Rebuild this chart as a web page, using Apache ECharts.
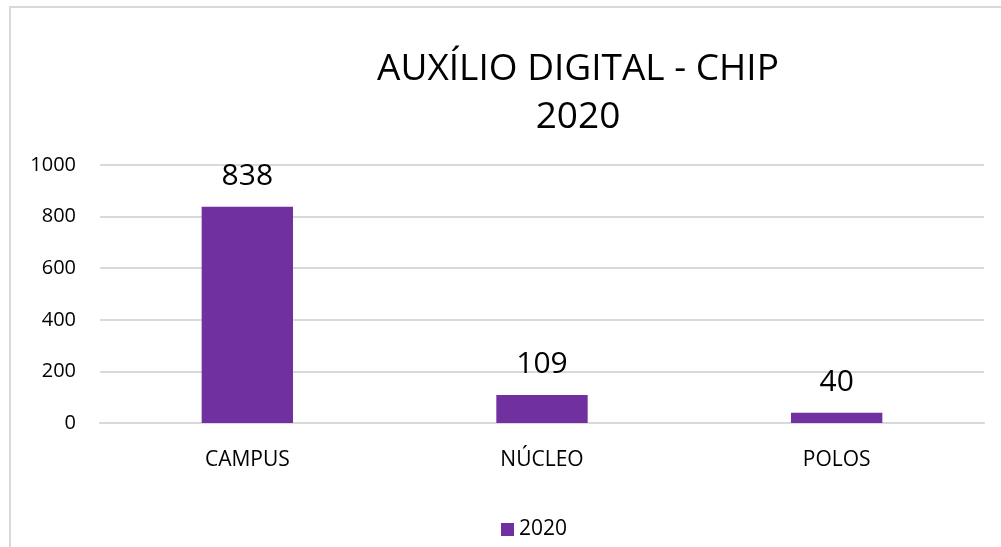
<!DOCTYPE html>
<html>
<head>
<meta charset="utf-8">
<script src="https://cdn.jsdelivr.net/npm/echarts@6/dist/echarts.min.js"></script>
<style>
  html, body { margin: 0; padding: 0; background: #fff; }
  #chart { width: 1001px; height: 547px; }
</style>
</head>
<body>
<div id="chart"></div>
<script>
  // dados
  var categories = ['CAMPUS', 'NÚCLEO', 'POLOS'];
  var values = [838, 109, 40];
  var seriesName = '2020';
  var titleLines = ['AUXÍLIO DIGITAL - CHIP', '2020'];

  var myChart = echarts.init(document.getElementById('chart'));
  var font = '"Open Sans", "Noto Sans", sans-serif';

  myChart.setOption({
    animation: false,
    textStyle: { fontFamily: font },
    graphic: [{
      type: 'rect',
      shape: { x: 10, y: 7, width: 1200, height: 700 },
      style: { fill: 'none', stroke: '#d9d9d9', lineWidth: 2 }
    }],
    title: {
      text: titleLines.join('\n'),
      left: 573,
      top: 40,
      textAlign: 'center',
      textStyle: {
        fontFamily: font,
        fontSize: 37,
        fontWeight: 'normal',
        color: '#000',
        lineHeight: 48
      }
    },
    legend: {
      bottom: 2,
      left: 496,
      itemWidth: 13,
      itemHeight: 13,
      itemGap: 6,
      icon: 'rect',
      textStyle: { fontFamily: font, fontSize: 21, color: '#000' },
      data: [seriesName]
    },
    grid: {
      left: 100,
      right: 17,
      top: 165,
      bottom: 124
    },
    xAxis: {
      type: 'category',
      data: categories,
      axisTick: { show: false },
      axisLine: { lineStyle: { color: '#d9d9d9', width: 2 } },
      axisLabel: { color: '#000', fontSize: 21, margin: 27, fontFamily: font }
    },
    yAxis: {
      type: 'value',
      min: 0,
      max: 1000,
      interval: 200,
      axisLine: { show: false },
      axisTick: { show: false },
      axisLabel: {
        color: '#000', fontSize: 20, margin: 24, fontFamily: font,
        formatter: function (v) { return String(v); }
      },
      splitLine: { lineStyle: { color: '#d9d9d9', width: 2 } }
    },
    series: [{
      name: seriesName,
      type: 'bar',
      barWidth: '31%',
      data: values,
      itemStyle: { color: '#7030a0' },
      label: {
        show: true,
        position: 'top',
        distance: 15,
        color: '#000',
        fontSize: 30,
        fontFamily: font
      }
    }]
  });
</script>
</body>
</html>
